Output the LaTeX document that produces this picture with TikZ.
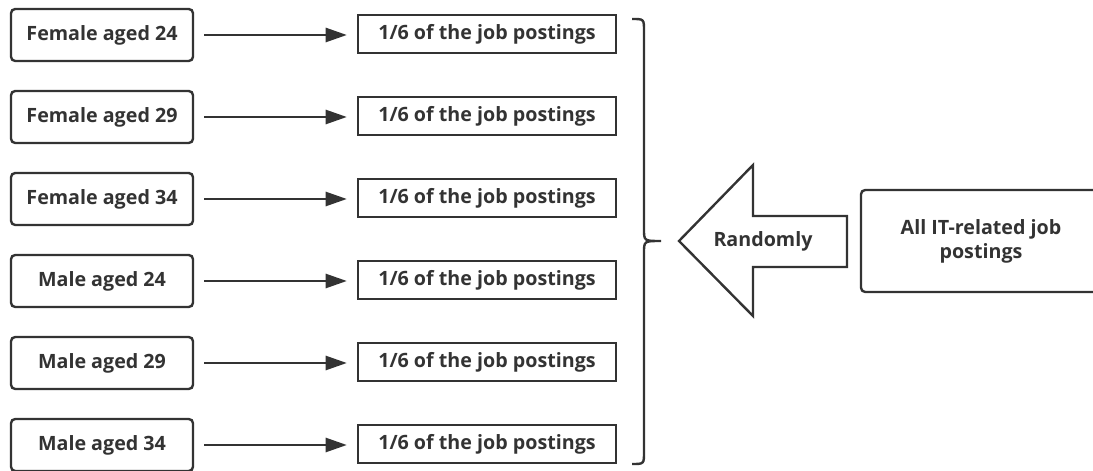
\documentclass[tikz,border=0pt]{standalone}
\usepackage{fontspec}
\setmainfont{Open Sans}
\usetikzlibrary{arrows.meta}
\definecolor{ink}{HTML}{333333}
\begin{document}
\begin{tikzpicture}[x=0.025cm, y=-0.025cm, line width=1.7pt, draw=ink,
            every node/.style={text=ink, font=\bfseries\fontsize{14}{17}\selectfont},
            group_box/.style={draw, rounded corners=3pt, minimum width=182*0.025cm, minimum height=52*0.025cm, inner sep=0pt},
            share_box/.style={draw, minimum width=258*0.025cm, minimum height=38*0.025cm, inner sep=0pt},
            edge_style/.style={draw=ink, -{Triangle[length=15pt, width=10pt]}}]
            \useasboundingbox (0, 0) rectangle (1093, 471);
            \node [group_box] (g1) at (102, 35) {Female aged 24};
            \node [group_box] (g2) at (102, 117) {Female aged 29};
            \node [group_box] (g3) at (102, 199) {Female aged 34};
            \node [group_box] (g4) at (102, 281) {Male aged 24};
            \node [group_box] (g5) at (102, 363) {Male aged 29};
            \node [group_box] (g6) at (102, 445) {Male aged 34};
            \node [share_box] (s1) at (487, 34) {1/6 of the job postings};
            \node [share_box] (s2) at (487, 116) {1/6 of the job postings};
            \node [share_box] (s3) at (487, 198) {1/6 of the job postings};
            \node [share_box] (s4) at (487, 280) {1/6 of the job postings};
            \node [share_box] (s5) at (487, 362) {1/6 of the job postings};
            \node [share_box] (s6) at (487, 444) {1/6 of the job postings};
            \draw[edge_style] ([xshift=10*0.025cm]g1.east) -- ([xshift=-10*0.025cm]s1.west |- g1.east);
            \draw[edge_style] ([xshift=10*0.025cm]g2.east) -- ([xshift=-10*0.025cm]s2.west |- g2.east);
            \draw[edge_style] ([xshift=10*0.025cm]g3.east) -- ([xshift=-10*0.025cm]s3.west |- g3.east);
            \draw[edge_style] ([xshift=10*0.025cm]g4.east) -- ([xshift=-10*0.025cm]s4.west |- g4.east);
            \draw[edge_style] ([xshift=10*0.025cm]g5.east) -- ([xshift=-10*0.025cm]s5.west |- g5.east);
            \draw[edge_style] ([xshift=10*0.025cm]g6.east) -- ([xshift=-10*0.025cm]s6.west |- g6.east);
            % brace
            \coordinate (brace_top) at (632, 19);
            \coordinate (brace_tip) at (661, 241);
            \coordinate (brace_bottom) at (632, 464);
            \draw (brace_top) .. controls (644, 19) .. (644, 31) -- (644, 229)
                .. controls (644, 241) .. (brace_tip)
                .. controls (644, 241) .. (644, 253) -- (644, 452)
                .. controls (644, 464) .. (brace_bottom);
            % big arrow
            \draw[line join=miter] (679, 241) -- (753, 165) -- (753, 216) -- (847, 216)
                -- (847, 267) -- (753, 267) -- (753, 316) -- cycle;
            \node (random) at (763, 241) {Randomly};
            \node [draw, rounded corners=3pt, minimum width=240*0.025cm, minimum height=102*0.025cm,
                   inner sep=0pt, align=center] (all) at (981, 241) {All IT-related job\\postings};
        \end{tikzpicture}
\end{document}
